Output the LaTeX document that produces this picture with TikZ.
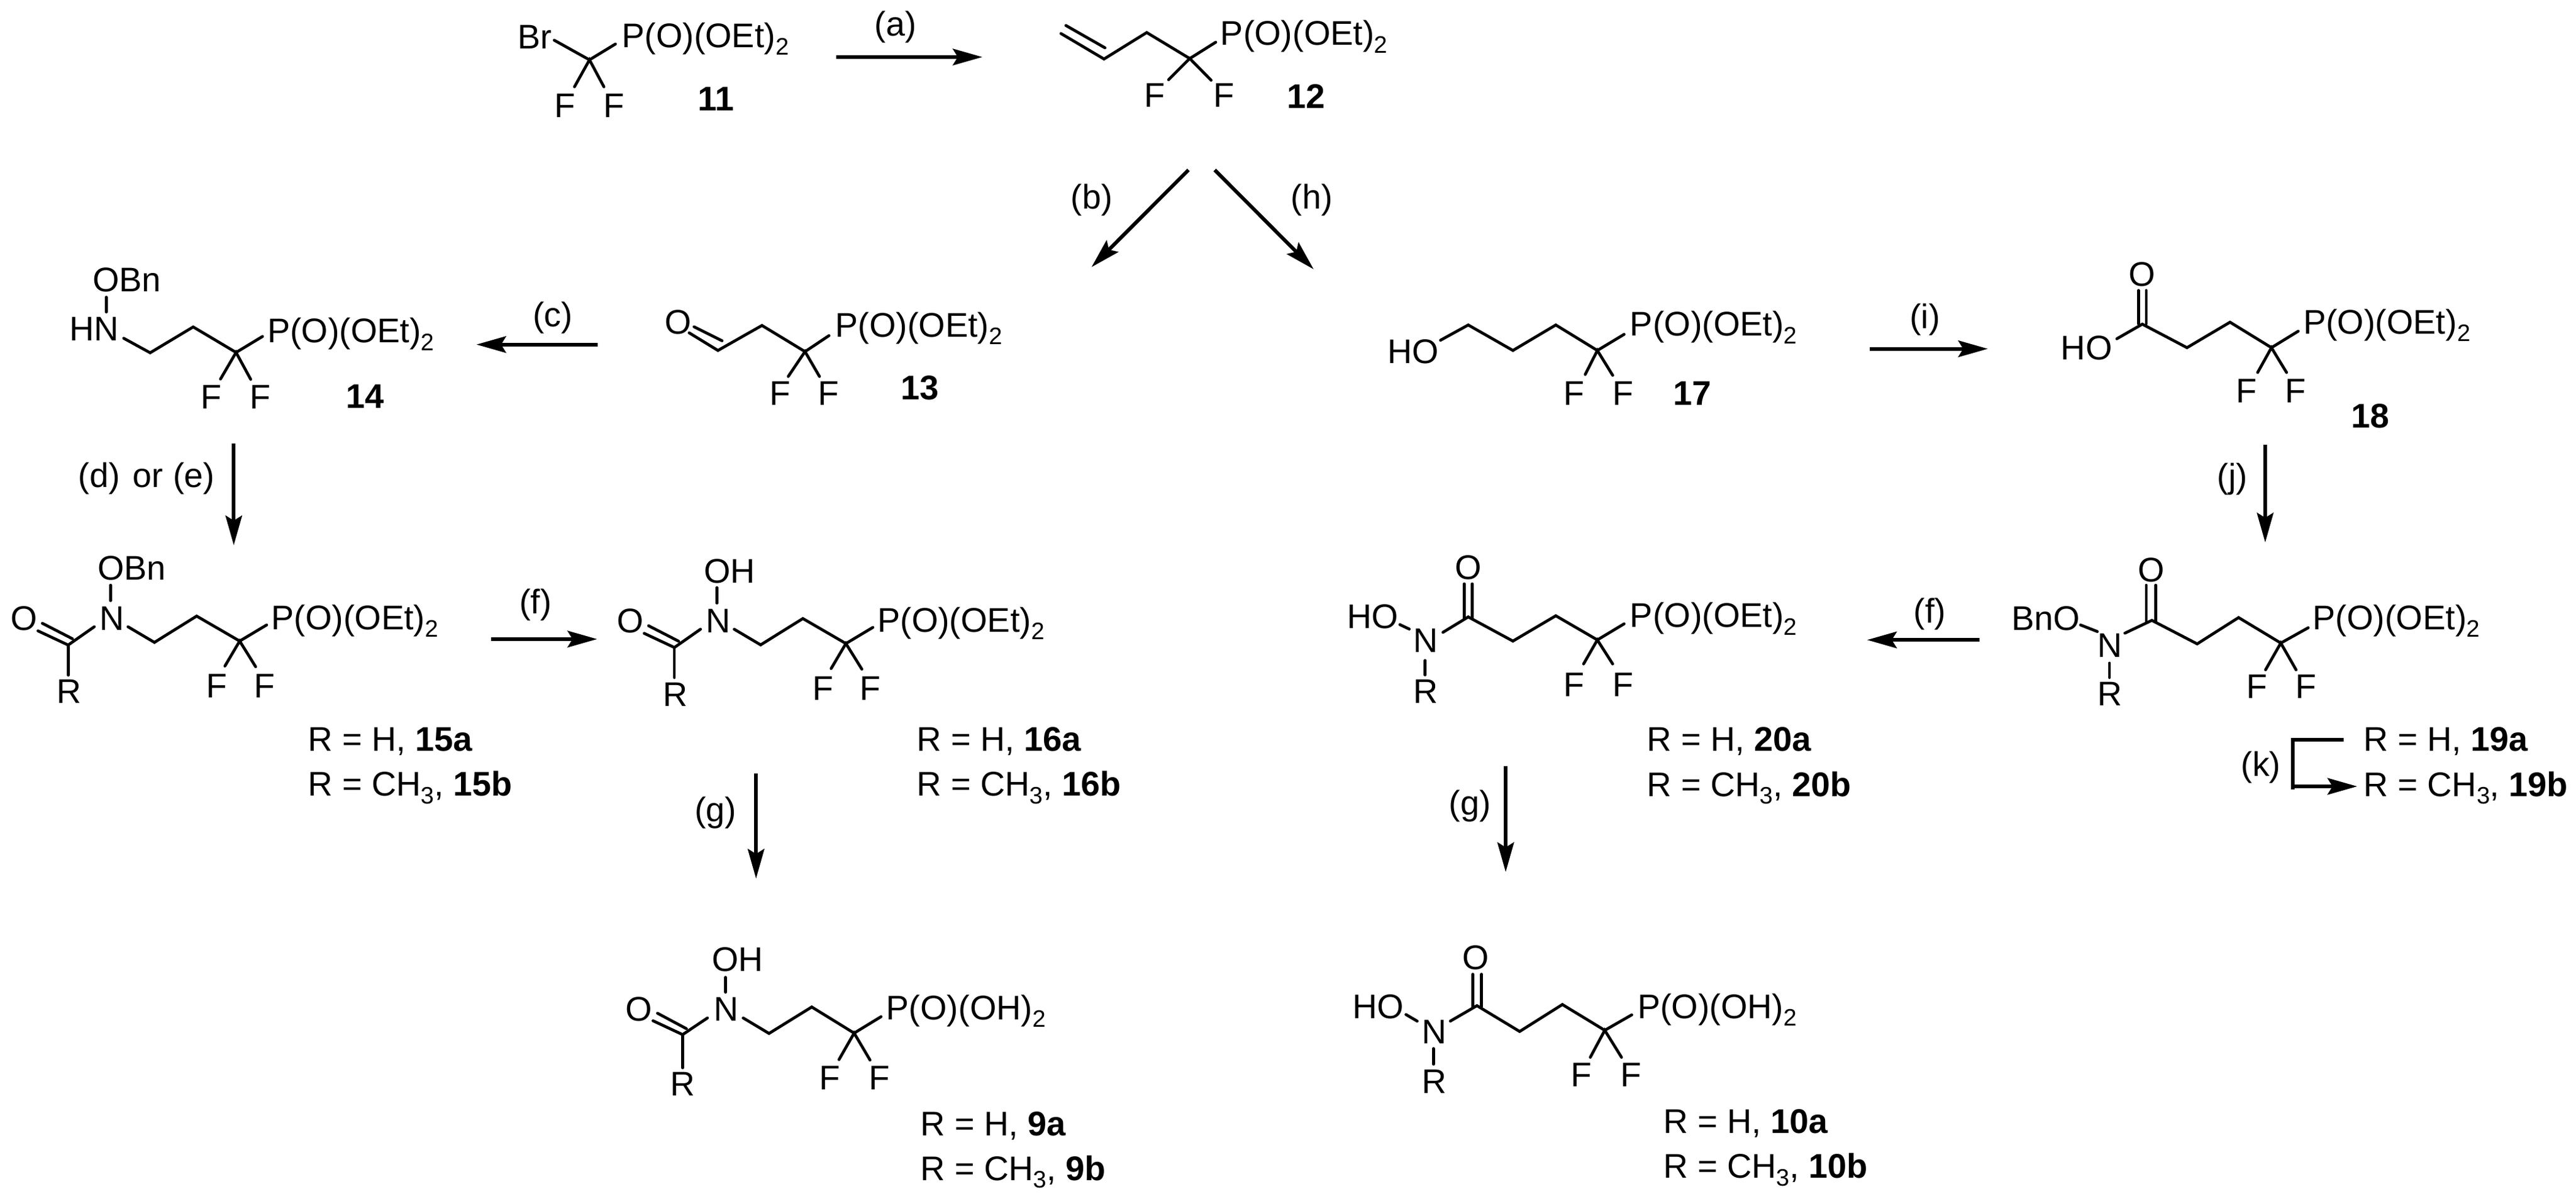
\documentclass[tikz,border=0pt]{standalone}
\usepackage{fontspec}
\setmainfont{Liberation Sans}
\usetikzlibrary{arrows.meta}
\tikzset{
  x=1pt,y=-1pt,
  lbl/.style={anchor=base west,inner sep=0pt,outer sep=0pt,xshift=-1.5pt,font=\fontsize{20.8}{24}\selectfont},
  rlabel/.style={anchor=base,inner sep=0pt,outer sep=0pt,font=\fontsize{20.8}{24}\selectfont},
  bond/.style={line width=1.75pt,line join=miter,line cap=round},
  rx/.style={line width=2.2pt,-{Stealth[length=18pt,width=10pt,inset=3pt]}},
  rxline/.style={line width=2.2pt,line join=miter},
}
\newcommand{\subs}[1]{\raisebox{-0.22em}{\fontsize{14.5}{15}\selectfont #1}}
\newcommand{\POEt}{P(O)(OEt)\subs{2}}
\newcommand{\POH}{P(O)(OH)\subs{2}}
\newcommand{\CHt}{CH\subs{3}}
\newcommand{\ptc}[2]{\coordinate (#1) at (#2);}
\newcommand{\lab}[3]{\node[lbl] (#1) at (#2) {#3};}
\newcommand{\rxl}[3]{\node[rlabel] (#1) at (#2) {#3};}
\begin{document}
\begin{tikzpicture}
\path[use as bounding box,fill=white] (0,0) rectangle (1568,730.3);

% ---- 11
\lab{br11}{316.5,29.8}{Br}\lab{p11}{380,29}{\POEt}
\lab{f11a}{339,71.3}{F}\lab{f11b}{369,71.3}{F}
\lab{n11}{426.5,67.5}{\textbf{11}}
\ptc{c11}{358.8,36.4}\ptc{b11br}{337.4,24.5}\ptc{b11p}{374.6,26.8}\ptc{b11fa}{349.7,52.8}\ptc{b11fb}{367.6,52.8}
\draw[bond] (b11br)--(c11)--(b11p);
\draw[bond] (b11fa)--(c11)--(b11fb);

% ---- arrow a
\ptc{aS}{509,34.7}\ptc{aE}{598,34.7}
\draw[rx] (aS)--(aE);
\rxl{la}{545,22}{(a)}

% ---- 12
\lab{p12}{744.4,27.6}{\POEt}
\lab{f12a}{698,65}{F}\lab{f12b}{740,65}{F}
\lab{n12}{785,65.8}{\textbf{12}}
\ptc{v1}{645.8,20.4}\ptc{v2}{672,35.9}\ptc{v1b}{648.8,15.5}\ptc{v2b}{672.6,29.1}\ptc{v3}{698,19.8}\ptc{c12}{724.2,35.6}
\ptc{b12p}{740,25.7}\ptc{b12fa}{711.3,48.5}\ptc{b12fb}{737.2,48.8}
\draw[bond] (v1)--(v2)--(v3)--(c12)--(b12p);
\draw[bond] (v1b)--(v2b);
\draw[bond] (b12fa)--(c12)--(b12fb);

% ---- arrows b, h
\ptc{bS}{723.4,103.4}\ptc{bE}{664.4,162.5}\ptc{hS}{739.4,103.4}\ptc{hE}{799.6,163.8}
\draw[rx] (bS)--(bE);
\draw[rx] (hS)--(hE);
\rxl{lb}{664.4,127}{(b)}\rxl{lh}{798.4,127}{(h)}

% ---- 13
\lab{o13}{406,203.2}{O}\lab{p13}{510,205}{\POEt}
\lab{f13a}{470,246.5}{F}\lab{f13b}{499.5,246.5}{F}
\lab{n13}{550,243}{\textbf{13}}
\ptc{o13a}{419.5,202.5}\ptc{o13b}{422.5,198.8}\ptc{c13o}{437,213.2}\ptc{c13ob}{439.5,207.3}\ptc{c13h}{463.8,198}\ptc{c13}{490,213.9}
\ptc{b13p}{504.6,204.2}\ptc{b13fa}{479.8,229}\ptc{b13fb}{498.8,229}
\draw[bond] (o13a)--(c13o)--(c13h)--(c13)--(b13p);
\draw[bond] (o13b)--(c13ob);
\draw[bond] (b13fa)--(c13)--(b13fb);

% ---- arrow c
\ptc{cS}{364,209.6}\ptc{cE}{290,209.6}
\draw[rx] (cS)--(cE);
\rxl{lc}{336.4,198.6}{(c)}

% ---- 14
\lab{obn14}{58,177.5}{OBn}\lab{hn14}{43.7,207.4}{HN}\lab{p14}{164.2,208.5}{\POEt}
\lab{f14a}{123.7,248.8}{F}\lab{f14b}{153.5,248.8}{F}
\lab{n14}{212.2,248.4}{\textbf{14}}
\ptc{on14a}{64.7,180.8}\ptc{on14b}{64.7,189.8}
\ptc{n14s}{75.3,205.8}\ptc{v14a}{91.4,214.6}\ptc{v14b}{117.6,198.9}\ptc{c14}{143.7,214.4}\ptc{b14p}{159.8,204.7}
\ptc{b14fa}{134.2,230.6}\ptc{b14fb}{152.6,230.8}
\draw[bond] (on14a)--(on14b);
\draw[bond] (n14s)--(v14a)--(v14b)--(c14)--(b14p);
\draw[bond] (b14fa)--(c14)--(b14fb);

% ---- arrow d
\ptc{dS}{142.3,269.8}\ptc{dE}{142.3,331.7}
\draw[rx] (dS)--(dE);
\rxl{ld}{89.2,296.5}{(d)\hspace{0.1em} or (e)}

% ---- 15
\lab{obn15}{61,353}{OBn}\lab{n15}{62,383.4}{N}\lab{o15}{8.2,383.4}{O}
\lab{p15}{166.6,383}{\POEt}\lab{r15}{36,428}{R}
\lab{f15a}{127,424.5}{F}\lab{f15b}{156,424.5}{F}
\ptc{on15a}{67.3,356}\ptc{on15b}{67.3,365.4}
\ptc{o15a}{23.1,383.8}\ptc{c15o}{41.5,392.4}\ptc{o15b}{25.8,379.2}\ptc{c15ob}{44.1,388.6}
\ptc{n15l}{57.4,381.3}\ptc{n15r}{77.9,381.3}\ptc{v15a}{94,390.8}\ptc{v15b}{119.7,374.8}\ptc{c15}{145.9,390}\ptc{b15p}{162.3,380.2}
\ptc{b15fa}{136.9,405.2}\ptc{b15fb}{155.6,405.6}\ptc{b15r}{41.5,410.7}
\draw[bond] (on15a)--(on15b);
\draw[bond] (o15a)--(c15o)--(n15l);
\draw[bond] (o15b)--(c15ob);
\draw[bond] (c15o)--(b15r);
\draw[bond] (n15r)--(v15a)--(v15b)--(c15)--(b15p);
\draw[bond] (b15fa)--(c15)--(b15fb);
\lab{t15a}{189,457}{R = H, \textbf{15a}}
\lab{t15b}{189,484.3}{R = \CHt, \textbf{15b}}

% ---- arrow f (left)
\ptc{fS}{299,388.8}\ptc{fE}{363.5,388.8}
\draw[rx] (fS)--(fE);
\rxl{lf}{326,373.5}{(f)}

% ---- 16
\begin{scope}[shift={(369,1.5)}]
\lab{oh16}{61,353}{OH}\lab{n16}{62,383.4}{N}\lab{o16}{8.2,383.4}{O}
\lab{p16}{166.6,383}{\POEt}\lab{r16}{36,428}{R}
\lab{f16a}{127,424.5}{F}\lab{f16b}{156,424.5}{F}
\ptc{on16a}{67.3,356}\ptc{on16b}{67.3,365.4}
\ptc{o16a}{23.1,383.8}\ptc{c16o}{41.5,392.4}\ptc{o16b}{25.8,379.2}\ptc{c16ob}{44.1,388.6}
\ptc{n16l}{57.4,381.3}\ptc{n16r}{77.9,381.3}\ptc{v16a}{94,390.8}\ptc{v16b}{119.7,374.8}\ptc{c16}{145.9,390}\ptc{b16p}{162.3,380.2}
\ptc{b16fa}{136.9,405.2}\ptc{b16fb}{155.6,405.6}\ptc{b16r}{41.5,410.7}
\draw[bond] (on16a)--(on16b);
\draw[bond] (o16a)--(c16o)--(n16l);
\draw[bond] (o16b)--(c16ob);
\draw[bond] (c16o)--(b16r);
\draw[bond] (n16r)--(v16a)--(v16b)--(c16)--(b16p);
\draw[bond] (b16fa)--(c16)--(b16fb);
\end{scope}
\lab{t16a}{559.5,457}{R = H, \textbf{16a}}
\lab{t16b}{559.5,484.3}{R = \CHt, \textbf{16b}}

% ---- arrow g left
\ptc{gS}{460.2,470.5}\ptc{gE}{460.2,534.5}
\draw[rx] (gS)--(gE);
\rxl{lg}{435.6,500}{(g)}

% ---- 9
\lab{oh9}{434.8,591}{OH}\lab{n9}{436,621}{N}\lab{o9}{382.2,621}{O}
\lab{p9}{541,620.3}{\POH}\lab{r9}{409.5,666.8}{R}
\lab{f9a}{500.3,662.8}{F}\lab{f9b}{530.3,662.8}{F}
\ptc{on9a}{441.6,594.6}\ptc{on9b}{441.6,603.6}
\ptc{o9a}{397.5,621}\ptc{c9o}{415.5,629.4}\ptc{o9b}{400.2,616.4}\ptc{c9ob}{417.8,625.8}
\ptc{n9l}{430.6,619.3}\ptc{n9r}{452.4,619.3}\ptc{v9a}{468.1,628.7}\ptc{v9b}{494.1,612.6}\ptc{c9}{519.9,628.5}\ptc{b9p}{536.3,618.5}
\ptc{b9fa}{510.7,644.6}\ptc{b9fb}{529.6,644.9}\ptc{b9r}{415.5,649.6}
\draw[bond] (on9a)--(on9b);
\draw[bond] (o9a)--(c9o)--(n9l);
\draw[bond] (o9b)--(c9ob);
\draw[bond] (c9o)--(b9r);
\draw[bond] (n9r)--(v9a)--(v9b)--(c9)--(b9p);
\draw[bond] (b9fa)--(c9)--(b9fb);
\lab{t9a}{561.8,690.8}{R = H, \textbf{9a}}
\lab{t9b}{561.8,718.2}{R = \CHt, \textbf{9b}}

% ---- 17
\lab{ho17}{846.2,221}{HO}\lab{p17}{993.7,204.4}{\POEt}
\lab{f17a}{953.3,246.5}{F}\lab{f17b}{983.2,246.5}{F}
\lab{n17}{1020,246.5}{\textbf{17}}
\ptc{b17o}{876.8,207}\ptc{v17a}{893.7,197.7}\ptc{v17b}{920.9,213.2}\ptc{v17c}{947,197.7}\ptc{c17}{972.3,213.2}\ptc{b17p}{988.6,203.4}
\ptc{b17fa}{964.9,227.8}\ptc{b17fb}{981.6,228.3}
\draw[bond] (b17o)--(v17a)--(v17b)--(v17c)--(c17)--(b17p);
\draw[bond] (b17fa)--(c17)--(b17fb);

% ---- arrow i
\ptc{iS}{1138,212.2}\ptc{iE}{1210,212.2}
\draw[rx] (iS)--(iE);
\rxl{li}{1171.7,200}{(i)}

% ---- 18
\lab{o18}{1297.4,174}{O}\lab{ho18}{1256,219}{HO}\lab{p18}{1403.5,203}{\POEt}
\lab{f18a}{1362.5,245}{F}\lab{f18b}{1392.5,245}{F}
\lab{n18}{1432.6,260.3}{\textbf{18}}
\ptc{d18aS}{1301.7,176.7}\ptc{d18aE}{1301.7,197}\ptc{d18bS}{1306.4,176.7}\ptc{d18bE}{1306.4,197}
\ptc{b18o}{1288.5,206.1}\ptc{c18o}{1304,197.2}\ptc{v18a}{1331.2,211.5}\ptc{v18b}{1357.4,196}\ptc{c18}{1382.6,211.5}\ptc{b18p}{1398.9,201.5}
\ptc{b18fa}{1374.2,226.6}\ptc{b18fb}{1391.8,226.6}
\draw[bond] (d18aS)--(d18aE);
\draw[bond] (d18bS)--(d18bE);
\draw[bond] (b18o)--(c18o)--(v18a)--(v18b)--(c18)--(b18p);
\draw[bond] (b18fa)--(c18)--(b18fb);

% ---- arrow j
\ptc{jS}{1378.8,270.6}\ptc{jE}{1378.8,330}
\draw[rx] (jS)--(jE);
\rxl{lj}{1358.8,297}{(j)}

% ---- 19
\lab{o19}{1303,354}{O}\lab{bno19}{1226,383.4}{BnO}\lab{n19}{1278.4,400}{N}
\lab{p19}{1409.3,383}{\POEt}\lab{r19}{1278.4,429.3}{R}
\lab{f19a}{1368.8,425}{F}\lab{f19b}{1398.8,425}{F}
\ptc{d19aS}{1306.4,356}\ptc{d19aE}{1306.4,378}\ptc{d19bS}{1312.1,356}\ptc{d19bE}{1312.1,378}
\ptc{b19oa}{1266.4,380.2}\ptc{b19ob}{1276.6,384.2}\ptc{b19n}{1293.4,385.2}
\ptc{c19o}{1309.8,377.4}\ptc{v19a}{1337.4,391.7}\ptc{v19b}{1362.6,375.7}\ptc{c19}{1388.3,391.2}\ptc{b19p}{1405,381.9}
\ptc{b19fa}{1379,407.5}\ptc{b19fb}{1397.6,407.5}\ptc{b19ra}{1284,403.4}\ptc{b19rb}{1284,412.2}
\draw[bond] (d19aS)--(d19aE);
\draw[bond] (d19bS)--(d19bE);
\draw[bond] (b19oa)--(b19ob);
\draw[bond] (b19n)--(c19o)--(v19a)--(v19b)--(c19)--(b19p);
\draw[bond] (b19fa)--(c19)--(b19fb);
\draw[bond] (b19ra)--(b19rb);
\lab{t19a}{1440.3,457}{R = H, \textbf{19a}}
\lab{t19b}{1440.3,484.4}{R = \CHt, \textbf{19b}}

% ---- bracket k
\ptc{kS}{1426.6,450}\ptc{kA}{1395.6,450}\ptc{kB}{1395.6,480.2}\ptc{kC}{1395.6,478.4}\ptc{kE}{1434.8,478.4}
\draw[rxline] (kS)--(kA)--(kB);
\draw[rx] (kC)--(kE);
\rxl{lk}{1376.2,472.2}{(k)}

% ---- arrow f (right)
\ptc{f2S}{1205,389.3}\ptc{f2E}{1136.5,389.3}
\draw[rx] (f2S)--(f2E);
\rxl{lf2}{1174.6,379}{(f)}

% ---- 20
\lab{o20}{887.1,352.4}{O}\lab{ho20}{821.4,382.4}{HO}\lab{n20}{861.9,397}{N}
\lab{p20}{993.7,381.7}{\POEt}\lab{r20}{861.9,428}{R}
\lab{f20a}{953.3,423.8}{F}\lab{f20b}{983.2,423.8}{F}
\ptc{d20aS}{891.3,355.2}\ptc{d20aE}{891.3,376}\ptc{d20bS}{896.1,355.2}\ptc{d20bE}{896.1,376}
\ptc{b20oa}{852.1,380}\ptc{b20ob}{857.8,382.7}\ptc{b20n}{878.3,384.7}
\ptc{c20o}{893.7,375.3}\ptc{v20a}{920.9,390}\ptc{v20b}{947,374.6}\ptc{c20}{972.3,389.3}\ptc{b20p}{988.6,379.5}
\ptc{b20fa}{963.9,403.9}\ptc{b20fb}{981.6,403.9}\ptc{b20ra}{867.5,401.8}\ptc{b20rb}{867.5,410.6}
\draw[bond] (d20aS)--(d20aE);
\draw[bond] (d20bS)--(d20bE);
\draw[bond] (b20oa)--(b20ob);
\draw[bond] (b20n)--(c20o)--(v20a)--(v20b)--(c20)--(b20p);
\draw[bond] (b20fa)--(c20)--(b20fb);
\draw[bond] (b20ra)--(b20rb);
\lab{t20a}{1004,457}{R = H, \textbf{20a}}
\lab{t20b}{1004,484.4}{R = \CHt, \textbf{20b}}

% ---- arrow g right
\ptc{g2S}{916.5,466}\ptc{g2E}{916.5,530.5}
\draw[rx] (g2S)--(g2E);
\rxl{lg2}{894.7,495.6}{(g)}

% ---- 10
\lab{o10}{891.8,589.8}{O}\lab{ho10}{824.7,619.7}{HO}\lab{n10}{867.1,635}{N}
\lab{p10}{998.2,619.5}{\POH}\lab{r10}{867.1,665.2}{R}
\lab{f10a}{957.8,661.2}{F}\lab{f10b}{987.8,661.2}{F}
\ptc{d10aS}{896.5,592.7}\ptc{d10aE}{896.5,612.4}\ptc{d10bS}{901.8,592.7}\ptc{d10bE}{901.8,612.4}
\ptc{b10oa}{855.8,617.2}\ptc{b10ob}{862.6,621.2}\ptc{b10n}{882.8,621.2}
\ptc{c10o}{899,611.8}\ptc{v10a}{925,627.5}\ptc{v10b}{951,611.1}\ptc{c10}{976.8,626.8}\ptc{b10p}{993.2,617.4}
\ptc{b10fa}{968,643.2}\ptc{b10fb}{987,643.2}\ptc{b10ra}{872.5,637.9}\ptc{b10rb}{872.5,647.4}
\draw[bond] (d10aS)--(d10aE);
\draw[bond] (d10bS)--(d10bE);
\draw[bond] (b10oa)--(b10ob);
\draw[bond] (b10n)--(c10o)--(v10a)--(v10b)--(c10)--(b10p);
\draw[bond] (b10fa)--(c10)--(b10fb);
\draw[bond] (b10ra)--(b10rb);
\lab{t10a}{1014,689.4}{R = H, \textbf{10a}}
\lab{t10b}{1014,716.8}{R = \CHt, \textbf{10b}}
\end{tikzpicture}
\end{document}
